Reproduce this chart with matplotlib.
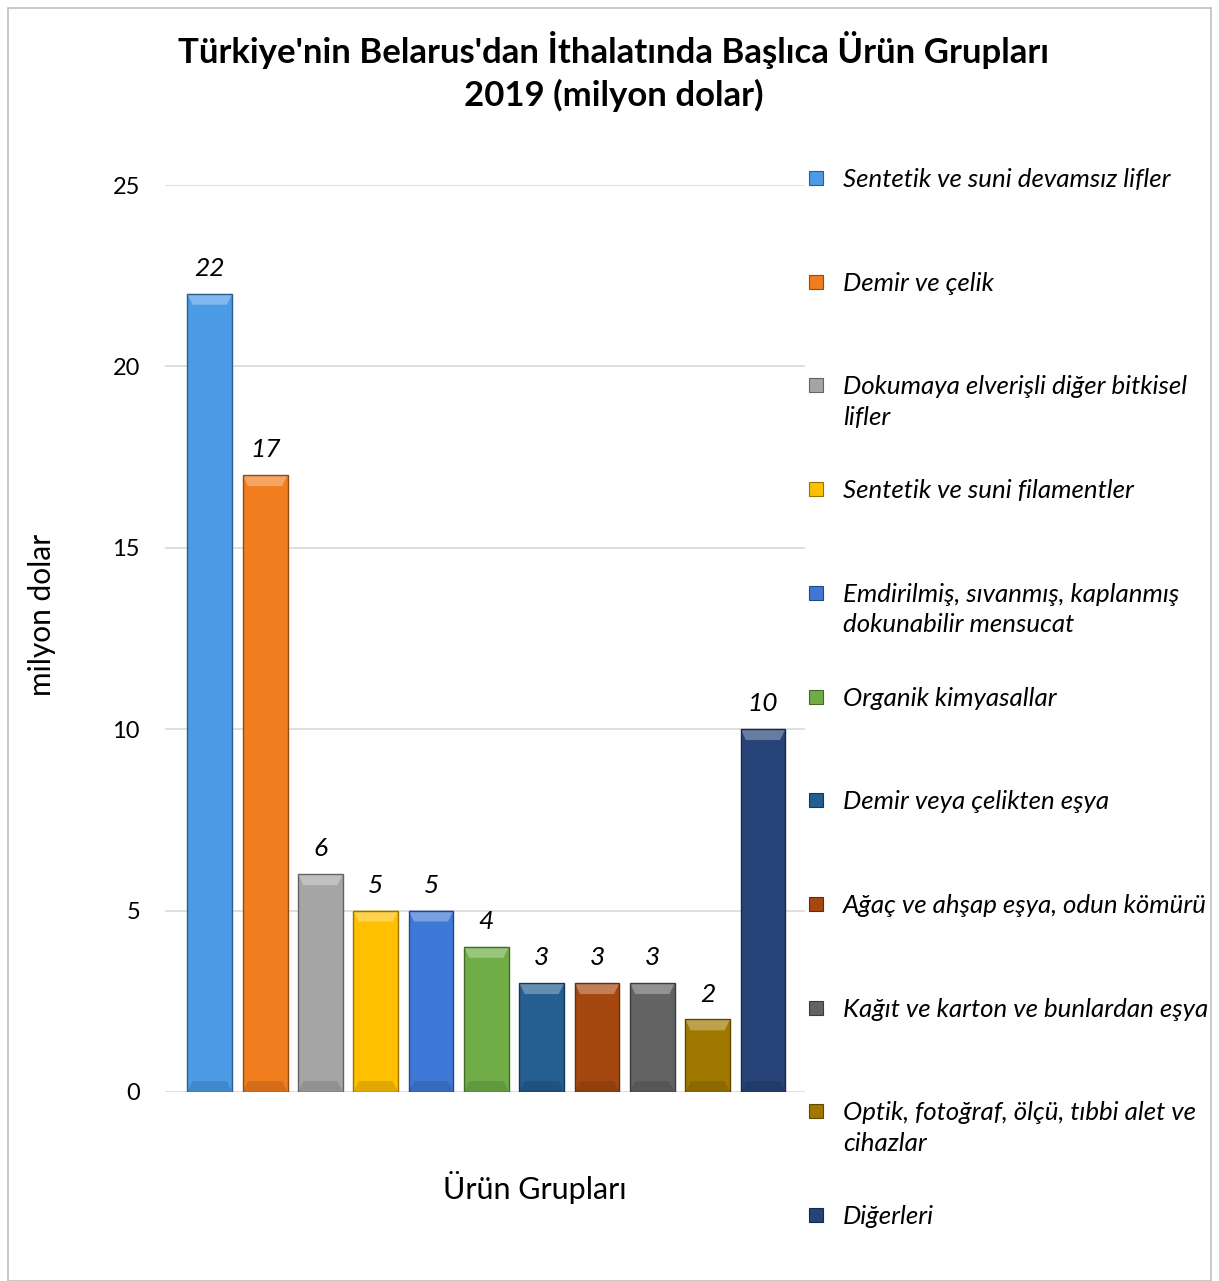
import matplotlib
matplotlib.use("Agg")
import matplotlib.pyplot as plt
import matplotlib.colors as mcolors
from matplotlib.patches import Rectangle, Polygon

plt.rcParams['font.family'] = ['Lato', 'DejaVu Sans']

# data
categories = [
    "Sentetik ve suni devamsız lifler",
    "Demir ve çelik",
    "Dokumaya elverişli diğer bitkisel\nlifler",
    "Sentetik ve suni filamentler",
    "Emdirilmiş, sıvanmış, kaplanmış\ndokunabilir mensucat",
    "Organik kimyasallar",
    "Demir veya çelikten eşya",
    "Ağaç ve ahşap eşya, odun kömürü",
    "Kağıt ve karton ve bunlardan eşya",
    "Optik, fotoğraf, ölçü, tıbbi alet ve\ncihazlar",
    "Diğerleri",
]
values = [22, 17, 6, 5, 5, 4, 3, 3, 3, 2, 10]
colors = ["#4B9BE6", "#F07D1E", "#A5A5A5", "#FFC000", "#3F78D6", "#70AD47",
          "#255E91", "#A5480F", "#636363", "#A07800", "#264478"]
yticks = [0, 5, 10, 15, 20, 25]

W, H = 1219, 1281
fig = plt.figure(figsize=(W / 100, H / 100), dpi=100)
ax = fig.add_axes([165 / W, 1 - 1092 / H, 640 / W, (1092 - 185) / H])

xs = list(range(len(values)))
bars = ax.bar(xs, values, width=0.81, color=colors, edgecolor="none", zorder=3)

# bevel-ish shading on each bar
for b, c in zip(bars, colors):
    x0, w, h = b.get_x(), b.get_width(), b.get_height()
    base = mcolors.to_rgb(c)
    light = tuple(min(1, v + (1 - v) * 0.3) for v in base)
    dark = tuple(v * 0.6 for v in base)
    bev = 0.12 * w
    bevy = 0.3
    ax.add_patch(Polygon([(x0, h), (x0 + w, h), (x0 + w - bev, h - bevy), (x0 + bev, h - bevy)],
                         closed=True, facecolor=light, edgecolor="none", zorder=4))
    ax.add_patch(Polygon([(x0, 0), (x0 + w, 0), (x0 + w - bev, bevy), (x0 + bev, bevy)],
                         closed=True, facecolor=dark, alpha=0.3, edgecolor="none", zorder=4))
    ax.add_patch(Rectangle((x0, 0), w, h, facecolor="none", edgecolor=dark,
                           linewidth=1.0, zorder=5))
    ax.annotate(str(int(h)), (x0 + w / 2, h), xytext=(0, 10), textcoords="offset points",
                ha="center", va="bottom", fontsize=19, style="italic", color="black")

ax.set_xlim(-0.81, len(values) - 1 + 0.76)
ax.set_ylim(0, 25)
ax.set_yticks(yticks)
ax.set_yticklabels([str(t) for t in yticks], fontsize=17)
ax.set_xticks([])
ax.tick_params(axis="y", length=0, pad=18)
ax.grid(axis="y", color="#D9D9D9", linewidth=1.2, zorder=0)
for s in ax.spines.values():
    s.set_visible(False)

fig.text(535 / W, 1 - 1187 / H, "Ürün Grupları", fontsize=22, ha="center", va="center")
fig.text(42 / W, 1 - 615 / H, "milyon dolar", rotation=90, fontsize=21.5,
         ha="center", va="center")

fig.text(614 / W, 1 - 50 / H, "Türkiye'nin Belarus'dan İthalatında Başlıca Ürün Grupları",
         ha="center", va="center", fontsize=25, fontweight="bold")
fig.text(614 / W, 1 - 95 / H, "2019 (milyon dolar)",
         ha="center", va="center", fontsize=25, fontweight="bold")

# legend drawn by hand so entries keep Excel's even spacing
top_y, step = 178, 103.7
for i, (lab, c) in enumerate(zip(categories, colors)):
    yc = top_y + i * step
    fig.patches.append(Rectangle((809 / W, 1 - (yc + 7) / H), 14 / W, 14 / H,
                                 transform=fig.transFigure, facecolor=c,
                                 edgecolor=tuple(v * 0.6 for v in mcolors.to_rgb(c)),
                                 linewidth=0.8))
    fig.text(843 / W, 1 - (yc - 10) / H, lab, ha="left", va="top", fontsize=18.6,
             style="italic", linespacing=1.38)

fig.patches.append(Rectangle((8 / W, 0), (1211 - 8) / W, 1 - 8 / H,
                             transform=fig.transFigure, facecolor="none",
                             edgecolor="#BFBFBF", linewidth=1.2))

fig.savefig("out.png", dpi=100, facecolor="white")
